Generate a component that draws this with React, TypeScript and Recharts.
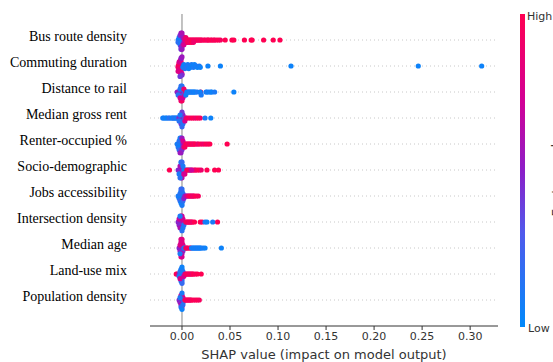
import React from 'react';
import { ScatterChart, Scatter, XAxis, YAxis, ReferenceLine } from 'recharts';

// Feature names, top to bottom
const features: string[] = [
  'Bus route density',
  'Commuting duration',
  'Distance to rail',
  'Median gross rent',
  'Renter-occupied %',
  'Socio-demographic',
  'Jobs accessibility',
  'Intersection density',
  'Median age',
  'Land-use mix',
  'Population density',
];

const xTicks: number[] = [0, 0.05, 0.1, 0.15, 0.2, 0.25, 0.3];

// [SHAP value, normalized feature value (0 = low, 1 = high)]
const busRouteDensity: [number, number][] = [
  [-0.004, 0.1], [-0.004, 0.15], [-0.003, 0.1], [-0.003, 0.2], [-0.003, 0.05], [-0.002, 0.1], [-0.002, 0.15],
  [-0.002, 0.05], [-0.002, 0.2], [-0.001, 0.1], [-0.001, 0.1], [-0.001, 0.15], [-0.001, 0.05], [-0.001, 0.2],
  [0, 0.1], [0, 0.15], [0, 0.05], [0, 0.2], [0.001, 0.1], [0.001, 0.15], [0.002, 0.1],
  [-0.002, 0.45], [-0.001, 0.5], [-0.001, 0.55], [0, 0.5], [0, 0.45], [0, 0.6], [0.001, 0.5], [0.001, 0.55],
  [0.002, 0.5], [0.002, 0.6], [-0.001, 0.4], [0, 0.55],
  [0.002, 0.75], [0.003, 0.8], [0.004, 0.85], [0.005, 0.8], [0.004, 0.9], [0.006, 0.85],
  [0.006, 0.95], [0.007, 0.9], [0.008, 1], [0.009, 0.95], [0.010, 0.9], [0.011, 1], [0.012, 0.95], [0.013, 0.9],
  [0.014, 1], [0.015, 0.95], [0.016, 0.9], [0.017, 1], [0.018, 0.95], [0.019, 0.9], [0.020, 1], [0.021, 0.95],
  [0.023, 0.9], [0.024, 1], [0.026, 0.95], [0.027, 0.9], [0.028, 1], [0.030, 0.95], [0.031, 1], [0.033, 0.9],
  [0.034, 1], [0.036, 0.95], [0.038, 1], [0.040, 0.95], [0.008, 0.9], [0.010, 1], [0.012, 0.9],
  [0.045, 1], [0.052, 1], [0.054, 1], [0.065, 1], [0.072, 1], [0.073, 1], [0.085, 1], [0.095, 1], [0.102, 1],
];

const commutingDuration: [number, number][] = [
  [-0.004, 0.95], [-0.004, 0.9], [-0.003, 1], [-0.003, 0.9], [-0.003, 0.95], [-0.003, 0.85], [-0.002, 1],
  [-0.002, 0.9], [-0.002, 0.95], [-0.002, 0.85], [-0.001, 1], [-0.001, 0.9], [-0.001, 0.95], [-0.001, 0.85],
  [-0.002, 0.8], [-0.003, 0.75], [-0.002, 0.7], [-0.001, 0.75], [0, 0.7], [-0.004, 0.8],
  [-0.001, 0.5], [0, 0.45], [0, 0.55], [0.001, 0.5], [-0.002, 0.4],
  [0.001, 0.1], [0.002, 0.05], [0.003, 0.1], [0.004, 0.05], [0.005, 0.15], [0.006, 0.1], [0.007, 0.05],
  [0.008, 0.1], [0.009, 0.05], [0.010, 0.1], [0.011, 0.05], [0.012, 0.1], [0.013, 0.05], [0.015, 0.1],
  [0.016, 0.05], [0.018, 0.1], [0.019, 0.05],
  [0.027, 0.05], [0.040, 0.05], [0.1135, 0.05], [0.246, 0.05], [0.312, 0.05],
];

const distanceToRail: [number, number][] = [
  [-0.005, 0.5], [-0.004, 0.5], [-0.003, 0.55], [-0.002, 0.45], [-0.002, 0.5], [-0.001, 0.55], [-0.001, 0.5],
  [0, 0.5], [0, 0.45], [0.001, 0.55], [0.001, 0.5], [0.002, 0.5], [-0.003, 0.45], [-0.001, 0.4], [0, 0.6],
  [-0.004, 0.15], [-0.002, 0.1], [-0.001, 0.2], [0, 0.15], [0.001, 0.1], [0.002, 0.2], [0.003, 0.15],
  [0, 0.1], [-0.001, 0.15],
  [-0.001, 0.9], [0, 0.95], [0.002, 0.9], [0.004, 1], [0.0045, 0.95], [0.0195, 1],
  [0.001, 0.7], [-0.002, 0.75], [0.003, 0.7],
  [0.004, 0.05], [0.005, 0.1], [0.006, 0.05], [0.007, 0.1], [0.008, 0.05], [0.009, 0.1], [0.010, 0.05],
  [0.011, 0.1], [0.012, 0.05], [0.013, 0.1], [0.014, 0.05], [0.016, 0.1], [0.019, 0.05], [0.020, 0.1],
  [0.025, 0.05], [0.026, 0.1], [0.028, 0.05], [0.030, 0.1], [0.031, 0.05], [0.034, 0.1], [0.054, 0.05],
];

const medianGrossRent: [number, number][] = [
  [-0.020, 0.1], [-0.019, 0.05], [-0.017, 0.1], [-0.016, 0.05], [-0.014, 0.1], [-0.013, 0.15], [-0.011, 0.1],
  [-0.010, 0.05], [-0.009, 0.1], [-0.008, 0.15], [-0.007, 0.1], [-0.006, 0.05], [-0.005, 0.1], [-0.004, 0.15],
  [-0.003, 0.5], [-0.002, 0.45], [-0.002, 0.55], [-0.001, 0.5], [-0.001, 0.45], [-0.001, 0.55], [0, 0.5],
  [0, 0.45], [0, 0.55], [0, 0.6], [0.001, 0.5], [0.001, 0.45], [0.001, 0.55], [0.002, 0.5], [-0.001, 0.4], [0, 0.4],
  [-0.003, 0.15], [-0.002, 0.1], [0, 0.2], [0.001, 0.15], [0.002, 0.1], [0.003, 0.15],
  [0.003, 0.75], [0.004, 0.7],
  [0.005, 0.9], [0.007, 0.95], [0.009, 0.9], [0.011, 1], [0.013, 0.95], [0.015, 0.9], [0.017, 1], [0.019, 0.95],
  [0.024, 0.1], [0.030, 0.05],
];

const renterOccupied: [number, number][] = [
  [-0.005, 0.1], [-0.004, 0.05], [-0.004, 0.15], [-0.003, 0.1], [-0.003, 0.05], [-0.003, 0.15], [-0.002, 0.1],
  [-0.002, 0.05], [-0.002, 0.15], [-0.002, 0.2], [-0.001, 0.1], [-0.001, 0.05], [-0.001, 0.15], [-0.001, 0.2],
  [0, 0.1], [0, 0.05], [0, 0.15], [-0.003, 0.2], [-0.002, 0.1], [-0.001, 0.1],
  [-0.001, 0.5], [0, 0.45], [0, 0.55], [0.001, 0.5], [0.001, 0.45], [-0.002, 0.55], [0.002, 0.5],
  [0.001, 0.75], [0.002, 0.8], [0.003, 0.75],
  [0.003, 0.95], [0.004, 0.9], [0.005, 1], [0.006, 0.95], [0.007, 0.9], [0.008, 1], [0.009, 0.95], [0.010, 0.9],
  [0.011, 1], [0.012, 0.95], [0.013, 0.9], [0.014, 1], [0.016, 0.95], [0.017, 0.9], [0.019, 1], [0.021, 0.95],
  [0.023, 0.9], [0.025, 1], [0.027, 0.95], [0.029, 1], [0.047, 1],
];

const socioDemographic: [number, number][] = [
  [-0.013, 1],
  [-0.004, 0.5], [-0.003, 0.45], [-0.002, 0.55], [-0.002, 0.5], [-0.001, 0.45], [-0.001, 0.55], [-0.001, 0.5],
  [0, 0.5], [0, 0.45], [0, 0.55], [0.001, 0.5], [0.001, 0.45], [-0.002, 0.6], [-0.001, 0.4], [0, 0.6],
  [-0.003, 0.1], [-0.002, 0.15], [-0.001, 0.1], [0, 0.2], [0.001, 0.1], [0.002, 0.15], [0.003, 0.1],
  [0.004, 0.05], [0.006, 0.1], [0.008, 0.05],
  [0.003, 0.9], [0.005, 0.95], [0.007, 1], [0.009, 0.9], [0.011, 0.95], [0.013, 1], [0.014, 0.9], [0.016, 0.95],
  [0.018, 1], [0.020, 0.9], [0.026, 1], [0.034, 1], [0.038, 1],
  [0.002, 0.75], [0.010, 0.7],
];

const jobsAccessibility: [number, number][] = [
  [-0.004, 0.1], [-0.003, 0.05], [-0.003, 0.15], [-0.002, 0.1], [-0.002, 0.05], [-0.002, 0.15], [-0.001, 0.1],
  [-0.001, 0.05], [-0.001, 0.15], [-0.001, 0.2], [-0.001, 0.1], [0, 0.1], [0, 0.05], [0, 0.15], [0, 0.2],
  [0, 0.1], [0.001, 0.1], [0.001, 0.05], [0.001, 0.15], [-0.002, 0.2], [-0.001, 0.05], [0, 0.05], [0.001, 0.2],
  [0.002, 0.1], [0, 0.15], [-0.001, 0.2], [0, 0.1],
  [0.002, 0.5], [0.003, 0.55], [0.004, 0.5], [0.006, 0.45],
  [0.005, 0.75], [0.008, 0.7], [0.010, 0.75], [0.012, 0.8],
  [0.007, 0.95], [0.009, 1], [0.011, 0.9], [0.013, 0.95], [0.015, 1], [0.017, 0.95],
];

const intersectionDensity: [number, number][] = [
  [-0.004, 0.5], [-0.003, 0.45], [-0.003, 0.55], [-0.002, 0.5], [-0.002, 0.45], [-0.002, 0.55], [-0.001, 0.5],
  [-0.001, 0.45], [-0.001, 0.55], [0, 0.5], [0, 0.45], [0, 0.55], [0.001, 0.5], [0.001, 0.45], [-0.001, 0.6],
  [-0.002, 0.6], [0, 0.6],
  [-0.003, 0.7], [-0.001, 0.75], [0, 0.7], [0.001, 0.75], [0.002, 0.7],
  [-0.002, 0.1], [0, 0.15], [0.001, 0.1], [0.002, 0.15],
  [0.004, 0.95], [0.005, 0.9], [0.006, 1], [0.007, 0.95], [0.008, 0.9], [0.009, 1], [0.010, 0.95], [0.011, 0.9],
  [0.013, 1], [0.019, 1], [0.021, 0.95], [0.037, 1],
  [0.024, 0.1], [0.026, 0.05], [0.032, 0.1],
];

const medianAge: [number, number][] = [
  [-0.003, 0.5], [-0.002, 0.45], [-0.002, 0.55], [-0.001, 0.5], [-0.001, 0.45], [-0.001, 0.55], [0, 0.5],
  [0, 0.45], [0, 0.55], [0.001, 0.5], [0.001, 0.45], [-0.001, 0.6], [0, 0.6],
  [-0.002, 0.8], [-0.001, 0.75], [-0.001, 0.85], [0, 0.8], [0, 0.75], [0, 0.85], [0.001, 0.8], [-0.001, 0.8],
  [-0.002, 0.1], [0.002, 0.15], [0.003, 0.1],
  [0.004, 0.95], [0.005, 1], [0.006, 0.9], [0.008, 0.95], [0.009, 1],
  [0.010, 0.05], [0.011, 0.1], [0.012, 0.05], [0.013, 0.1], [0.014, 0.05], [0.015, 0.1], [0.016, 0.05],
  [0.017, 0.1], [0.018, 0.05], [0.019, 0.1], [0.020, 0.05], [0.022, 0.1], [0.024, 0.05], [0.041, 0.05],
];

const landUseMix: [number, number][] = [
  [-0.006, 1], [-0.005, 0.95],
  [-0.003, 0.5], [-0.002, 0.45], [-0.002, 0.55], [-0.001, 0.5], [-0.001, 0.45], [-0.001, 0.55], [0, 0.5],
  [0, 0.45], [0, 0.55], [0.001, 0.5], [0.001, 0.45], [-0.001, 0.6], [0, 0.6],
  [-0.003, 0.1], [-0.002, 0.15], [-0.001, 0.1], [-0.001, 0.05], [0, 0.1], [0, 0.15], [0, 0.05], [0.001, 0.1],
  [0.002, 0.15], [0, 0.2],
  [0.002, 0.75], [0.003, 0.7], [-0.002, 0.75],
  [0.004, 0.95], [0.005, 0.9], [0.006, 1], [0.007, 0.95], [0.008, 0.9], [0.009, 1], [0.010, 0.95], [0.011, 0.9],
  [0.012, 1], [0.014, 0.95], [0.016, 1], [0.020, 1],
];

const populationDensity: [number, number][] = [
  [-0.003, 0.5], [-0.002, 0.45], [-0.002, 0.55], [-0.001, 0.5], [-0.001, 0.45], [-0.001, 0.55], [0, 0.5],
  [0, 0.45], [0, 0.55], [0.001, 0.5], [0.001, 0.45], [0, 0.6], [-0.001, 0.6],
  [-0.001, 0.75], [0, 0.8], [0, 0.7], [0.001, 0.75],
  [-0.002, 0.1], [-0.001, 0.15], [0, 0.1], [0, 0.05], [0.001, 0.15], [0.002, 0.1],
  [0.003, 0.9], [0.004, 0.95], [0.005, 1], [0.006, 0.9], [0.007, 0.95], [0.008, 1], [0.009, 0.9], [0.010, 0.95],
  [0.012, 1], [0.014, 0.95], [0.016, 1], [0.018, 0.95],
];

const featurePoints: [number, number][][] = [
  busRouteDensity, commutingDuration, distanceToRail, medianGrossRent, renterOccupied, socioDemographic,
  jobsAccessibility, intersectionDensity, medianAge, landUseMix, populationDensity,
];

// SHAP red-blue colormap approximation
const cmapStops: [number, [number, number, number]][] = [
  [0, [0, 138, 251]],
  [0.3, [80, 90, 236]],
  [0.5, [140, 30, 200]],
  [0.72, [210, 0, 150]],
  [1, [255, 0, 82]],
];

function colorFor(v: number): string {
  const t = Math.max(0, Math.min(1, v));
  for (let i = 1; i < cmapStops.length; i++) {
    const [t1, c1] = cmapStops[i];
    const [t0, c0] = cmapStops[i - 1];
    if (t <= t1) {
      const f = (t - t0) / (t1 - t0);
      const c = c0.map((a, k) => Math.round(a + (c1[k] - a) * f));
      return `rgb(${c[0]},${c[1]},${c[2]})`;
    }
  }
  return 'rgb(255,0,82)';
}

// Beeswarm offsets following the SHAP summary-plot layout
const ROW_HEIGHT = 0.5;
function beeswarm(points: [number, number][], row: number) {
  const shaps = points.map((p) => p[0]);
  const mn = Math.min(...shaps);
  const mx = Math.max(...shaps);
  const nbins = 100;
  const quant = shaps.map((s) => Math.round((nbins * (s - mn)) / (mx - mn + 1e-8)));
  const inds = points.map((_, i) => i).sort((a, b) => quant[a] - quant[b] || a - b);
  const ys = new Array(points.length).fill(0);
  let layer = 0;
  let last = -1;
  for (const ind of inds) {
    if (quant[ind] !== last) layer = 0;
    ys[ind] = Math.ceil(layer / 2) * ((layer % 2) * 2 - 1);
    layer++;
    last = quant[ind];
  }
  const m = Math.max(...ys.map((y) => y + 1));
  const k = (0.9 * ROW_HEIGHT) / m;
  return points.map((p, i) => ({ x: p[0], y: row + ys[i] * k, color: colorFor(p[1]) }));
}

const scatterData = featurePoints.map((pts, i) => beeswarm(pts, i));
const rowIndices = features.map((_, i) => i);

const Dot = (props: any) => {
  const { cx, cy, payload } = props;
  if (cx == null || cy == null) return null;
  return <circle cx={cx} cy={cy} r={2.6} fill={payload.color} />;
};

const FeatureTick = (props: any) => {
  const { x, y, payload } = props;
  return (
    <text
      x={x - 15}
      y={y + 1}
      textAnchor="end"
      fontFamily="'Liberation Serif', 'Times New Roman', serif"
      fontSize={14}
      fill="#000"
    >
      {features[payload.value]}
    </text>
  );
};

export default function App() {
  return (
    <div style={{ position: 'absolute', left: 0, top: 0, width: 553, height: 362, background: '#fff' }}>
      <ScatterChart width={553} height={362} margin={{ top: 14, right: 55, bottom: 0, left: 0 }}>
        <XAxis
          type="number"
          dataKey="x"
          domain={[-0.0333, 0.329]}
          allowDataOverflow
          ticks={xTicks}
          tickFormatter={(v: number) => v.toFixed(2)}
          height={36}
          tickSize={4}
          tick={{ fontSize: 11, fontFamily: "'DejaVu Sans', sans-serif", fill: '#333' }}
          axisLine={{ stroke: '#333' }}
          tickLine={{ stroke: '#333' }}
          label={{
            value: 'SHAP value (impact on model output)',
            position: 'insideBottom',
            offset: 3,
            style: { fontSize: 13, fontFamily: "'DejaVu Sans', sans-serif", fill: '#333' },
          }}
        />
        <YAxis
          type="number"
          dataKey="y"
          domain={[-1, 11]}
          reversed
          ticks={rowIndices}
          width={150}
          axisLine={false}
          tickLine={false}
          interval={0}
          tick={<FeatureTick />}
        />
        {rowIndices.map((i) => (
          <ReferenceLine key={`g${i}`} y={i} stroke="#c8c8c8" strokeDasharray="1 3" />
        ))}
        <ReferenceLine x={0} stroke="#999" strokeWidth={1.2} />
        {scatterData.map((d, i) => (
          <Scatter key={features[i]} data={d} shape={<Dot />} isAnimationActive={false} />
        ))}
      </ScatterChart>
      <svg
        width={553}
        height={362}
        style={{ position: 'absolute', left: 0, top: 0, pointerEvents: 'none' }}
      >
        <defs>
          <linearGradient id="cbar" x1="0" y1="1" x2="0" y2="0">
            {cmapStops.map(([t, c]) => (
              <stop key={t} offset={t} stopColor={`rgb(${c[0]},${c[1]},${c[2]})`} />
            ))}
          </linearGradient>
        </defs>
        <rect x={520} y={14} width={5} height={313} fill="url(#cbar)" />
        <text x={527} y={20} fontSize={11} fontFamily="'DejaVu Sans', sans-serif" fill="#333">
          High
        </text>
        <text x={528} y={332} fontSize={11} fontFamily="'DejaVu Sans', sans-serif" fill="#333">
          Low
        </text>
        <text
          x={561}
          y={172}
          fontSize={13}
          fontFamily="'DejaVu Sans', sans-serif"
          fill="#333"
          textAnchor="middle"
          transform="rotate(-90 561 172)"
        >
          Feature value
        </text>
      </svg>
    </div>
  );
}
